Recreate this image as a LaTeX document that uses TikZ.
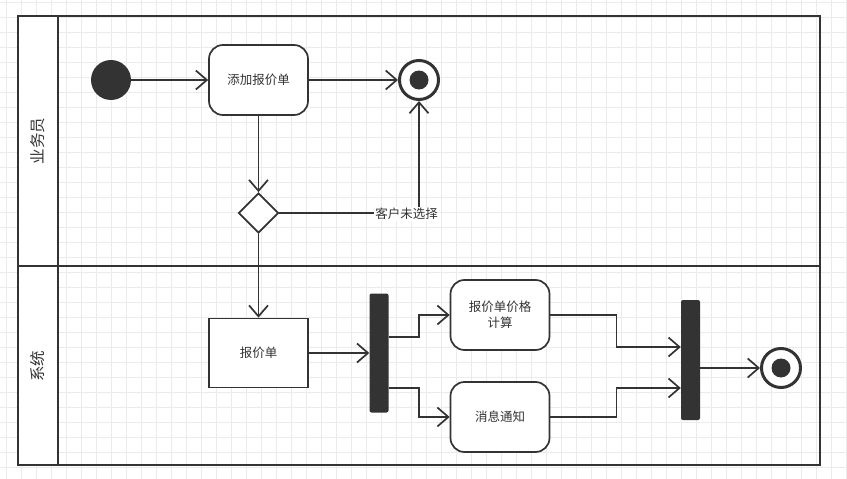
\documentclass[tikz,border=0pt]{standalone}
\usepackage{fontspec}
\newfontfamily\cjk{Noto Sans CJK SC}
\usetikzlibrary{arrows.meta,shapes.geometric}
\definecolor{ink}{HTML}{333333}
\definecolor{gridc}{HTML}{EBEBEB}
\begin{document}
\begin{tikzpicture}[x=1pt,y=-1pt,
  txt/.style={font=\cjk\fontsize{12.5}{16}\selectfont, text=ink},
  lanetxt/.style={font=\cjk\fontsize{15.5}{18}\selectfont, text=ink, rotate=90},
  act/.style={txt, draw=ink, line width=1.7pt, rounded corners=14pt, fill=white,
    minimum width=99pt, minimum height=70pt, align=center, inner sep=2pt},
  plainbox/.style={act, rounded corners=0pt, minimum height=69pt},
  bar/.style={fill=ink, rounded corners=2pt, minimum width=19pt, inner sep=0pt},
  startc/.style={circle, fill=ink, minimum size=40pt, inner sep=0pt},
  endc/.style={circle, draw=ink, line width=3pt, fill=white, minimum size=39pt, inner sep=0pt},
  dec/.style={diamond, draw=ink, line width=1.7pt, fill=white, minimum width=40pt,
    minimum height=40pt, inner sep=0pt},
  arr/.style={draw=ink, line width=1.7pt, -{Straight Barb[length=11pt,width=19pt]}},
  lane/.style={draw=ink, line width=2pt},
  lab/.style={txt, fill=white, inner sep=1pt}
]
\useasboundingbox (0,0) rectangle (847,479);
\fill[white] (0,0) rectangle (847,479);
% grid
\foreach \k in {0,...,56} \draw[gridc, line width=1pt] (6.7+15*\k,0) -- (6.7+15*\k,479);
\foreach \k in {0,...,31} \draw[gridc, line width=1pt] (0,2.3+15*\k) -- (847,2.3+15*\k);
% pool and lanes
\fill[white] (18,16) rectangle (58,465);
\draw[lane] (18,16) rectangle (820,465);
\draw[lane] (58,16) -- (58,465);
\draw[lane] (18,266) -- (820,266);
\node[lanetxt] (l1) at (38,141) {业务员};
\node[lanetxt] (l2) at (38,366) {系统};
% nodes
\node[startc] (s) at (111,80) {};
\node[act] (add) at (258.5,80) {添加报价单};
\node[endc] (e1) at (419,80) {};
\fill[ink] (e1.center) circle (9.5);
\node[dec] (d) at (258.5,213) {};
\node[plainbox] (bj) at (258.5,353) {报价单};
\node[bar, minimum height=119pt] (fork) at (379,353) {};
\node[act] (calc) at (500,315) {报价单价格\\计算};
\node[act] (msg) at (500,417) {消息通知};
\node[bar, minimum height=120pt] (join) at (690.5,360) {};
\node[endc] (e2) at (781,368) {};
\fill[ink] (e2.center) circle (9.5);
% edges
\draw[arr] (s) -- (add);
\draw[arr] (add) -- (e1);
\draw[arr] (add) -- (d);
\draw[arr] (d.east) -| (e1.south);
\node[lab] (nl) at (406.5,214) {客户未选择};
\draw[arr] (d) -- (bj);
\draw[arr] (bj) -- (fork);
\draw[arr] ([yshift=16pt]fork.east) -- ++(30,0) |- (calc.west);
\draw[arr] ([yshift=-35pt]fork.east) -- ++(30,0) |- (msg.west);
\draw[arr] (calc.east) -- ++(66,0) |- ([yshift=13pt]join.west);
\draw[arr] (msg.east) -- ++(66,0) |- ([yshift=-28pt]join.west);
\draw[arr] (join.east |- e2) -- (e2);
\end{tikzpicture}
\end{document}
